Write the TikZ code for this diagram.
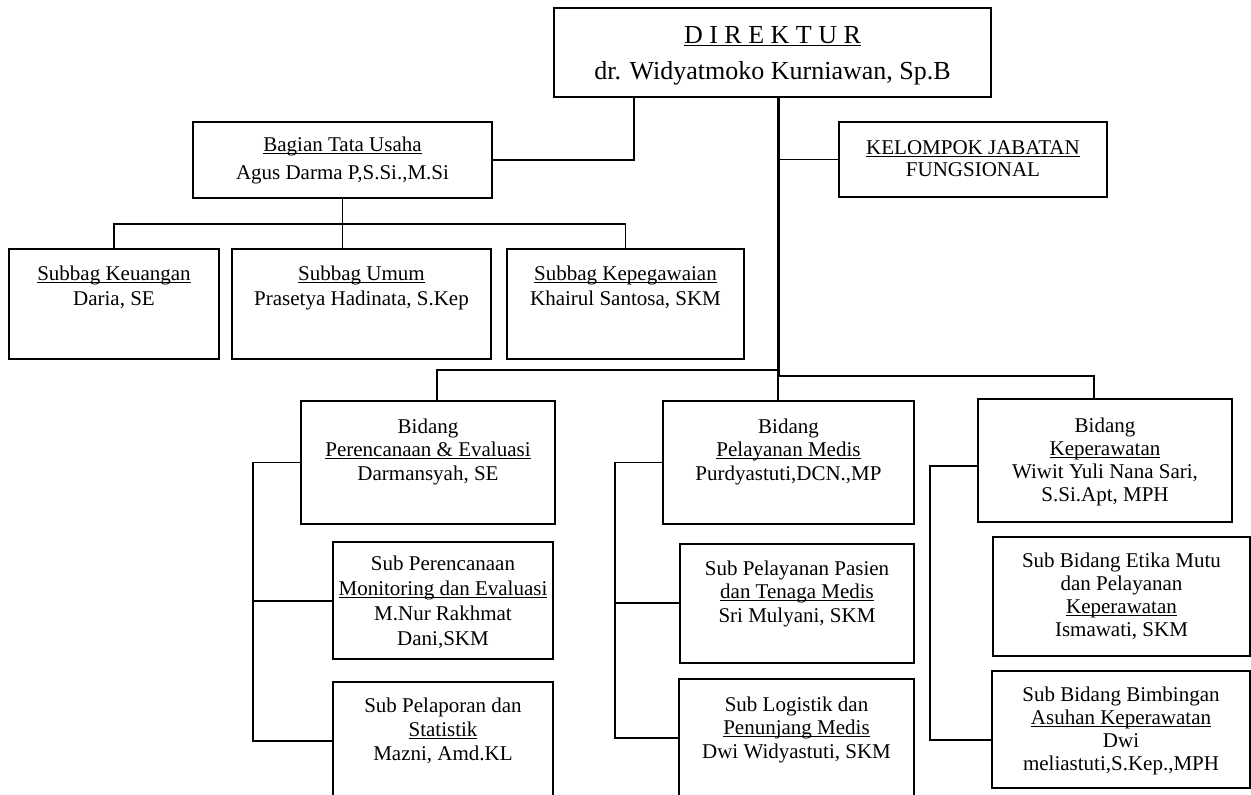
\documentclass[tikz,border=0pt]{standalone}
\usepackage{fontspec}
\setmainfont{Liberation Serif}
\newcommand\uln[1]{\leavevmode\setbox0\hbox{#1}\rlap{\rule[-0.13em]{\wd0}{0.05em}}\box0}
\newcommand\obox[9]{\node[obx,anchor=north west] (#1) at (#2,#3) {\parbox[t][\dimexpr#5pt-#3pt\relax][t]{\dimexpr#4pt-#2pt\relax}{\centering\fontsize{#6}{#8}\selectfont\rule{0pt}{#7pt}#9\par}};}
\begin{document}
\begin{tikzpicture}[x=1pt,y=-1pt,
  obx/.style={draw,line width=1.3pt,inner sep=0pt,outer sep=0pt},
  con/.style={line width=1.3pt},
  thk/.style={line width=3pt}]
\useasboundingbox (0,0) rectangle (1251,795);
\clip (0,0) rectangle (1251,795);
\fill[white] (0,0) rectangle (1251,795);
% boxes
\obox{dir}{554}{8}{991}{97}{26}{35}{36}{\uln{D I R E K T U R}\\dr. Widyatmoko Kurniawan, Sp.B}
\obox{bag}{193}{122}{492}{198}{21}{29}{28}{\uln{Bagian Tata Usaha}\\Agus Darma P,S.Si.,M.Si}
\obox{kel}{839}{122}{1107}{197}{21}{32}{22}{\uln{KELOMPOK JABATAN}\\FUNGSIONAL}
\obox{keu}{9}{249}{219}{359}{21}{31}{25}{\uln{Subbag Keuangan}\\Daria, SE}
\obox{umu}{232}{249}{491}{359}{21}{31}{25}{\uln{Subbag Umum}\\Prasetya Hadinata, S.Kep}
\obox{kep}{507}{249}{744}{359}{21}{31}{25}{\uln{Subbag Kepegawaian}\\Khairul Santosa, SKM}
\obox{ren}{301}{401}{555}{524}{21}{32}{23.5}{Bidang\\\uln{Perencanaan \& Evaluasi}\\Darmansyah, SE}
\obox{pel}{663}{401}{914}{524}{21}{32}{23.5}{Bidang\\\uln{Pelayanan Medis}\\Purdyastuti,DCN.,MP}
\obox{kpr}{978}{399}{1232}{522}{21}{33}{23}{Bidang\\\uln{Keperawatan}\\Wiwit Yuli Nana Sari,\\S.Si.Apt, MPH}
\obox{mon}{333}{542}{553}{659}{21}{28}{25}{Sub Perencanaan\\\uln{Monitoring dan Evaluasi}\\M.Nur Rakhmat\\Dani,SKM}
\obox{lap}{333}{682}{553}{810}{21}{30}{24}{Sub Pelaporan dan\\\uln{Statistik}\\Mazni, Amd.KL}
\obox{pas}{680}{544}{914}{663}{21}{31}{23.5}{Sub Pelayanan Pasien\\\uln{dan Tenaga Medis}\\Sri Mulyani, SKM}
\obox{lgs}{679}{679}{914}{810}{21}{32}{23.5}{Sub Logistik dan\\\uln{Penunjang Medis}\\Dwi Widyastuti, SKM}
\obox{eti}{993}{537}{1250}{656}{21}{30}{23}{Sub Bidang Etika Mutu\\dan Pelayanan\\\uln{Keperawatan}\\Ismawati, SKM}
\obox{bim}{992}{671}{1250}{788}{21}{30}{23}{Sub Bidang Bimbingan\\\uln{Asuhan Keperawatan}\\Dwi\\meliastuti,S.Kep.,MPH}
% connectors
\coordinate (t1) at (634,97);
\draw[con] (t1) |- (bag.east);
\coordinate (k1) at (778,97);
\coordinate (k2) at (778,376);
\draw[thk] (k1) -- (k2);
\draw[con] (k1 |- kel.west) -- (kel.west);
\coordinate (s1) at (342.5,224);
\draw[con] (bag.south) -- (s1);
\draw[con] (keu.north) |- (s1) -| (kep.north);
\draw[con] (s1) -- (s1 |- umu.north);
\coordinate (b1) at (437,370);
\coordinate (b2) at (778,370);
\draw[con] (b1 |- ren.north) -- (b1) -- (b2) -- (b2 |- pel.north);
\coordinate (b3) at (1094,376);
\draw[con] (k2) -- (b3) -- (b3 |- kpr.north);
\coordinate (l1) at (253,601);
\coordinate (l2) at (253,741);
\draw[con] (ren.west) -| (l2) -- (l2 -| lap.west);
\draw[con] (l1) -- (l1 -| mon.west);
\coordinate (m1) at (615,603);
\coordinate (m2) at (615,738);
\draw[con] (pel.west) -| (m2) -- (m2 -| lgs.west);
\draw[con] (m1) -- (m1 -| pas.west);
\coordinate (r1) at (930,466);
\coordinate (r2) at (930,740);
\draw[con] (r1 -| kpr.west) -- (r1) -- (r2) -- (r2 -| bim.west);
\end{tikzpicture}
\end{document}
